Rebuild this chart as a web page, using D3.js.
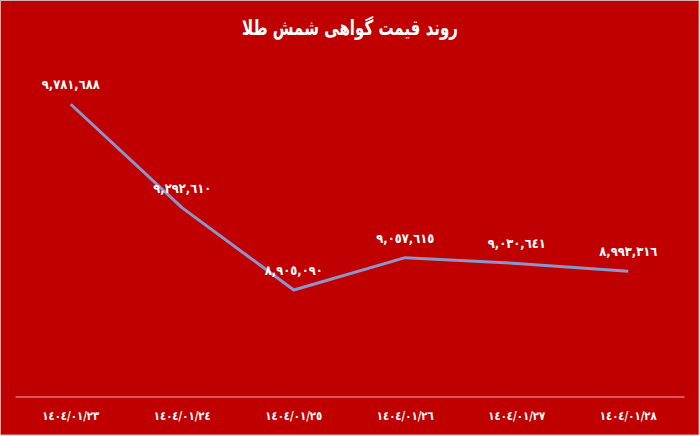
<!DOCTYPE html>
<html><head><meta charset="utf-8">
<script src="https://cdn.jsdelivr.net/npm/d3@7"></script>
<style>
html,body{margin:0;padding:0;background:#fff;}
svg{display:block;}
text{font-family:"DejaVu Sans",sans-serif;}
</style></head>
<body>
<script>
const title = "روند قیمت گواهی شمش طلا";
const dates = ["١٤٠٤/٠١/٢٣","١٤٠٤/٠١/٢٤","١٤٠٤/٠١/٢٥","١٤٠٤/٠١/٢٦","١٤٠٤/٠١/٢٧","١٤٠٤/٠١/٢٨"];
const prices = [9781688, 9292610, 8905090, 9057615, 9030641, 8993316];
const yDomain = [8400000, 10000000];

const W = 700, H = 436;
const m = {left:15, right:16, top:58, bottom:40};
const toArabic = s => String(s).replace(/[0-9]/g, d => "٠١٢٣٤٥٦٧٨٩"[+d]);
const fmt = v => toArabic(d3.format(",")(v));

const svg = d3.select("body").append("svg").attr("width", W).attr("height", H);
svg.append("rect").attr("x",0.5).attr("y",0.5).attr("width",W-1.5).attr("height",H-1.5)
  .attr("fill","#C00000").attr("stroke","#d9b0b0").attr("stroke-width",1);

const x = d3.scaleBand().domain(dates).range([m.left, W - m.right]);
const y = d3.scaleLinear().domain(yDomain).range([397, m.top]);

svg.append("text").attr("x", 350).attr("y", 35).attr("text-anchor","middle")
  .attr("fill","#fff").attr("font-weight","bold").attr("font-size",21)
  .attr("textLength",216).attr("lengthAdjust","spacingAndGlyphs")
  .attr("direction","rtl").text(title);

const axis = svg.append("g").attr("transform", `translate(0,396.5)`)
  .call(d3.axisBottom(x).tickSize(0).tickPadding(15));
axis.select(".domain").attr("stroke","#eab6b6").attr("stroke-width",1.2);
axis.selectAll("text").attr("fill","#fff").attr("font-size",12).attr("font-weight","bold")
  .attr("textLength",57).attr("lengthAdjust","spacingAndGlyphs")
  .attr("font-family","DejaVu Sans, sans-serif").style("direction","ltr").style("unicode-bidi","embed");

const data = dates.map((d,i)=>({d, v:prices[i]}));
const line = d3.line().x(p => x(p.d) + x.bandwidth()/2).y(p => y(p.v));
svg.append("path").datum(data).attr("d", line).attr("fill","none")
  .attr("stroke","#8B96CB").attr("stroke-width",3).attr("stroke-linejoin","round");

svg.selectAll(".lbl").data(data).enter().append("text").attr("class","lbl")
  .attr("x", p => x(p.d) + x.bandwidth()/2)
  .attr("y", p => y(p.v) - 15)
  .attr("text-anchor","middle").attr("fill","#fff").attr("font-weight","bold").attr("font-size",13)
  .attr("textLength",58).attr("lengthAdjust","spacingAndGlyphs")
  .style("direction","ltr").style("unicode-bidi","embed")
  .text(p => fmt(p.v));
</script>
</body></html>
